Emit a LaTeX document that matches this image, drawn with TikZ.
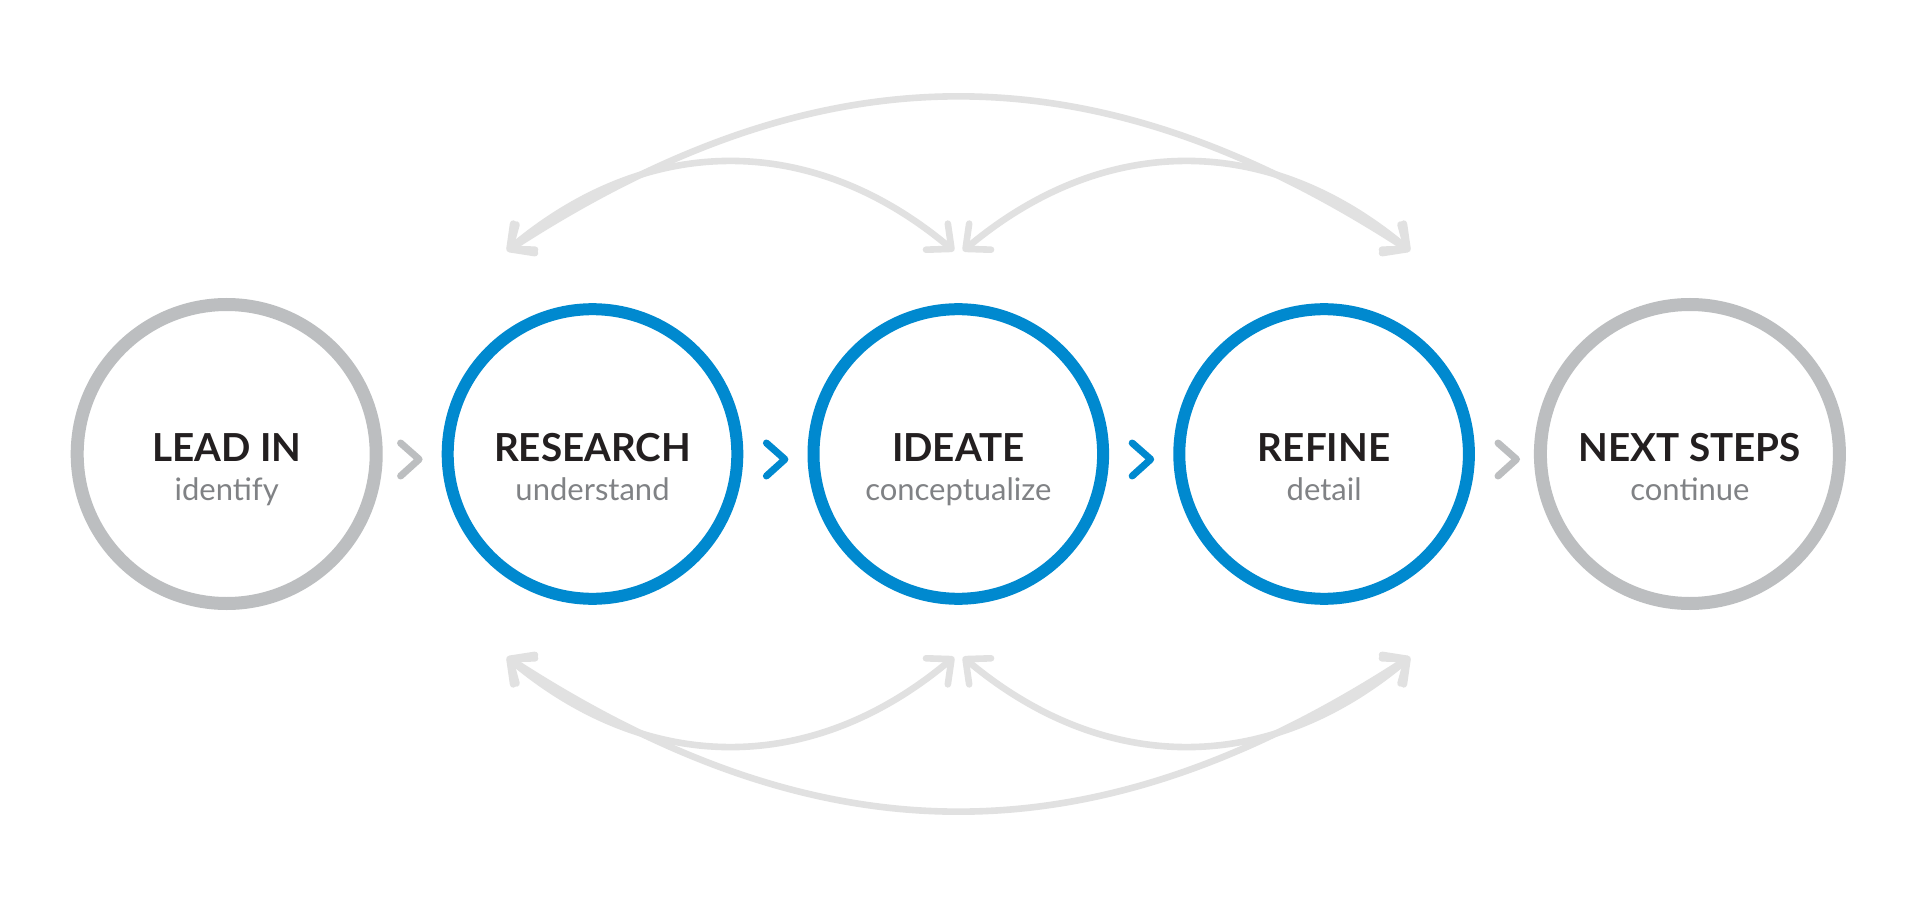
\documentclass[tikz,border=0pt]{standalone}
\usepackage{fontspec}
\setmainfont{Lato}
\usetikzlibrary{arrows.meta,calc}
\definecolor{ringgray}{HTML}{BCBEC0}
\definecolor{ringblue}{HTML}{0089CF}
\definecolor{arcgray}{HTML}{E1E1E1}
\definecolor{titleblack}{HTML}{231F20}
\definecolor{subgray}{HTML}{808285}
\begin{document}
\begin{tikzpicture}[x=0.5pt,y=-0.5pt,
  ringG/.style={circle, draw=ringgray, line width=6.5pt, minimum size=149.5pt, inner sep=0pt},
  ringB/.style={circle, draw=ringblue, line width=6pt, minimum size=144.8pt, inner sep=0pt},
  ttl/.style={anchor=base, font=\fontsize{19.3}{22}\selectfont\bfseries, text=titleblack, inner sep=0pt},
  subt/.style={anchor=base, font=\fontsize{15.5}{18}\selectfont, text=subgray, inner sep=0pt},
  chev/.style={line width=3.5pt, line cap=round, line join=round},
  barb/.tip={Straight Barb[length=9.5pt,width=17pt,round]},
  feedback/.style={draw=arcgray, line width=3.3pt, barb-barb}
]
\fill[white] (0,0) rectangle (1920,898);
\useasboundingbox (0,0) rectangle (1920,898);

% feedback arcs (top)
\coordinate (tL) at (507,251);
\coordinate (tML) at (954,251);
\coordinate (tMR) at (963,251);
\coordinate (tR) at (1410,251);
\draw[feedback] (tL) .. controls (823,46) and (1094,46) .. (tR);
\draw[feedback] (tL) .. controls (648.5,132.3) and (812.5,132.3) .. (tML);
\draw[feedback] (tMR) .. controls (1104.5,132.3) and (1268.5,132.3) .. (tR);
% feedback arcs (bottom)
\coordinate (bL) at (507,657);
\coordinate (bML) at (954,657);
\coordinate (bMR) at (963,657);
\coordinate (bR) at (1410,657);
\draw[feedback] (bL) .. controls (823,862) and (1094,862) .. (bR);
\draw[feedback] (bL) .. controls (648.5,775.7) and (812.5,775.7) .. (bML);
\draw[feedback] (bMR) .. controls (1104.5,775.7) and (1268.5,775.7) .. (bR);

% rings
\node[ringG] (c1) at (226.7,454) {};
\node[ringB] (c2) at (592.5,454) {};
\node[ringB] (c3) at (958.3,454) {};
\node[ringB] (c4) at (1324.1,454) {};
\node[ringG] (c5) at (1689.9,454) {};

% labels
\node[ttl] (t1) at (226.7,461.7) {LEAD IN};
\node[subt] (s1) at (226.7,500) {identify};
\node[ttl] (t2) at (592.5,461.7) {RESEARCH};
\node[subt] (s2) at (592.5,500) {understand};
\node[ttl] (t3) at (958.3,461.7) {IDEATE};
\node[subt] (s3) at (958.3,500) {conceptualize};
\node[ttl] (t4) at (1324.1,461.7) {REFINE};
\node[subt] (s4) at (1324.1,500) {detail};
\node[ttl] (t5) at (1689.9,461.7) {NEXT STEPS};
\node[subt] (s5) at (1689.9,500) {continue};

% chevrons between rings
\coordinate (m1) at ($(c1)!0.5!(c2)$);
\coordinate (m2) at ($(c2)!0.5!(c3)$);
\coordinate (m3) at ($(c3)!0.5!(c4)$);
\coordinate (m4) at ($(c4)!0.5!(c5)$);
\draw[chev, ringgray] ([shift={(-9,-11)}]m1) -- ([shift={(9.5,5.3)}]m1) -- ([shift={(-9,22)}]m1);
\draw[chev, ringblue] ([shift={(-9,-11)}]m2) -- ([shift={(9.5,5.3)}]m2) -- ([shift={(-9,22)}]m2);
\draw[chev, ringblue] ([shift={(-9,-11)}]m3) -- ([shift={(9.5,5.3)}]m3) -- ([shift={(-9,22)}]m3);
\draw[chev, ringgray] ([shift={(-9,-11)}]m4) -- ([shift={(9.5,5.3)}]m4) -- ([shift={(-9,22)}]m4);
\end{tikzpicture}
\end{document}
